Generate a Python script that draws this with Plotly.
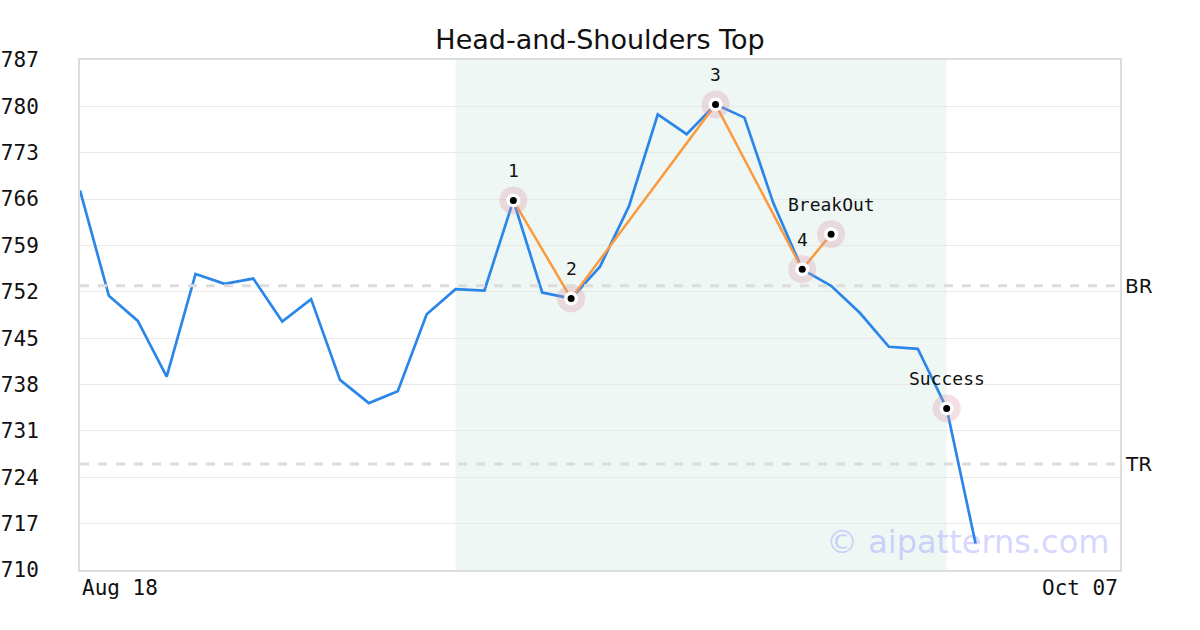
import plotly.graph_objects as go

# closing prices, one per trading day starting Aug 18
closes = [767.3, 751.4, 747.6, 739.2, 754.7, 753.2, 754.0, 747.5, 750.9, 738.7,
          735.2, 737.0, 748.6, 752.4, 752.2, 765.8, 751.9, 751.0, 755.8, 764.9,
          778.8, 775.8, 780.3, 778.3, 765.4, 755.4, 752.9, 748.8, 743.7, 743.4,
          734.4, 714.0]
days = list(range(len(closes)))

# pattern pivots
pivot_idx = [15, 17, 22, 25, 26]
pivot_val = [765.8, 751.0, 780.3, 755.4, 760.7]
pivot_lbl = ["1", "2", "3", "4", "BreakOut"]

success_idx = [30]
success_val = [734.4]

breakout_level = 752.9
target_level = 726.0
zone = [13, 30]

x_range = [0, 36]
x_ticks = ["Aug 18", "Oct 07"]
y_ticks = [710, 717, 724, 731, 738, 745, 752, 759, 766, 773, 780, 787]

BLUE = "#2a86e8"
ORANGE = "#fb9a3e"
MONO = "DejaVu Sans Mono"
SANS = "DejaVu Sans"

fig = go.Figure()

# shaded pattern zone
fig.add_vrect(x0=zone[0], x1=zone[1], fillcolor="#eff7f4", line_width=0, layer="below")

for lvl in [breakout_level, target_level]:
    fig.add_hline(y=lvl, line=dict(color="#dcdcdc", width=3, dash="dash"))

fig.add_trace(go.Scatter(x=days, y=closes, mode="lines",
                         line=dict(color=BLUE, width=2.7)))
fig.add_trace(go.Scatter(x=pivot_idx, y=pivot_val, mode="lines",
                         line=dict(color=ORANGE, width=2.5)))

mk_x = pivot_idx + success_idx
mk_y = pivot_val + success_val
fig.add_trace(go.Scatter(x=mk_x, y=mk_y, mode="markers",
                         marker=dict(size=28, color="rgba(215,150,165,0.3)")))
fig.add_trace(go.Scatter(x=mk_x, y=mk_y, mode="markers",
                         marker=dict(size=14, color="white")))
fig.add_trace(go.Scatter(x=mk_x, y=mk_y, mode="markers",
                         marker=dict(size=7, color="black")))

for xi, yi, t in zip(mk_x, mk_y, pivot_lbl + ["Success"]):
    fig.add_annotation(x=xi, y=yi, text=t, showarrow=False, yshift=30,
                       font=dict(family=MONO, size=18, color="#111"))

# level labels on the right
for lvl, t in [(breakout_level, "BR"), (target_level, "TR")]:
    fig.add_annotation(x=1, xref="paper", y=lvl, text=t, showarrow=False,
                       xanchor="left", xshift=3, font=dict(family=SANS, size=20, color="#111"))

# end date labels
fig.add_annotation(x=x_range[0], y=0, yref="paper", text=x_ticks[0], showarrow=False,
                   xanchor="left", yanchor="top", yshift=-4,
                   font=dict(family=MONO, size=21, color="#111"))
fig.add_annotation(x=x_range[1], y=0, yref="paper", text=x_ticks[1], showarrow=False,
                   xanchor="right", yanchor="top", yshift=-4,
                   font=dict(family=MONO, size=21, color="#111"))

fig.add_annotation(x=1, xref="paper", y=0.055, yref="paper", text="© aipatterns.com",
                   showarrow=False, xanchor="right", yanchor="middle", xshift=-9,
                   font=dict(family=SANS, size=32, color="rgba(110,110,255,0.3)"))

fig.update_layout(
    width=1200, height=630,
    margin=dict(l=80, r=80, t=60, b=60),
    paper_bgcolor="white", plot_bgcolor="white",
    showlegend=False,
    title=dict(text="Head-and-Shoulders Top", x=0.5, xanchor="center", y=0.937, yanchor="middle",
               font=dict(family=SANS, size=27, color="#111")),
    xaxis=dict(range=x_range, showgrid=False, zeroline=False, showticklabels=False,
               showline=True, linecolor="#dddddd", linewidth=2, mirror=True, automargin=False),
    yaxis=dict(range=[y_ticks[0], y_ticks[-1]], tickvals=y_ticks, showgrid=True,
               gridcolor="#e8e8e8", gridwidth=1, zeroline=False,
               showline=True, linecolor="#dddddd", linewidth=2, mirror=True,
               ticklabelstandoff=35, automargin=False,
               tickfont=dict(family=MONO, size=21, color="#111")),
)

# page body has a default margin, drop it so the figure sits at 0,0
fig.write_html("out.html", config={"displayModeBar": False},
               post_script="document.body.style.margin='0';")
